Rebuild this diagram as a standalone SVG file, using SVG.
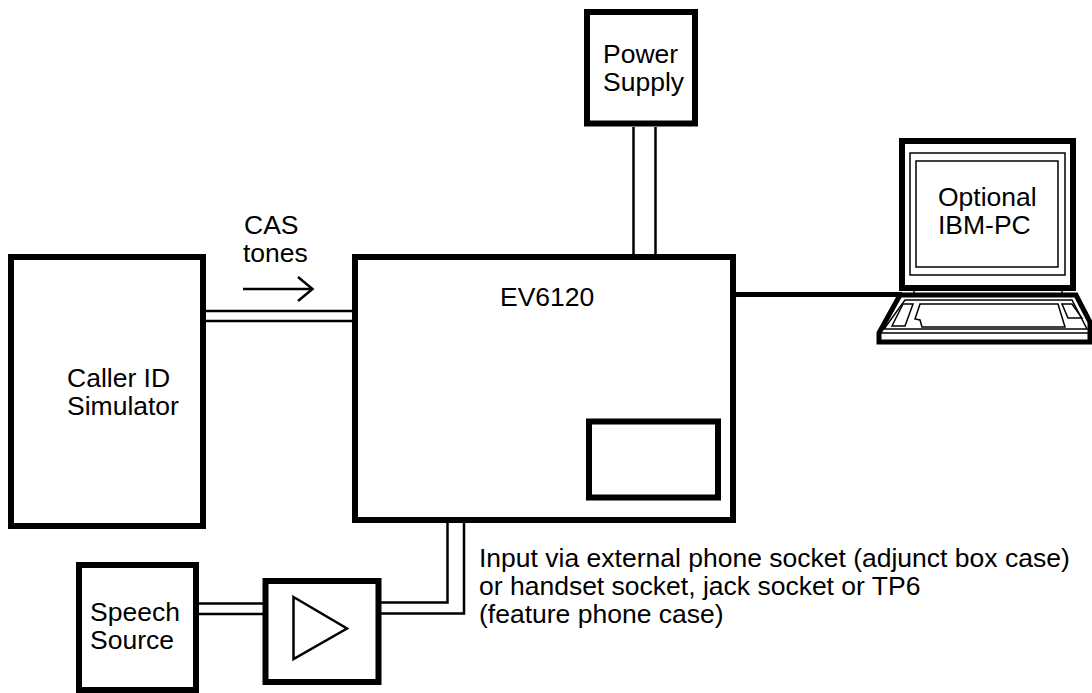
<svg xmlns="http://www.w3.org/2000/svg" width="1092" height="693" viewBox="0 0 1092 693">
<style>
.box{fill:#fff;stroke:#000;stroke-width:6}
.thin{fill:none;stroke:#000;stroke-width:2.5}
.hair{fill:none;stroke:#000;stroke-width:1.5}
.lbl{font-family:"Liberation Sans",Arial,Helvetica,sans-serif;font-size:26.5px;fill:#000}
</style>
<rect width="1092" height="693" fill="#fff"/>
<g id="connectors">
<line class="thin" x1="206" y1="311" x2="352" y2="311"/>
<line class="thin" x1="206" y1="321" x2="352" y2="321"/>
<line class="thin" x1="633.5" y1="127" x2="633.5" y2="254"/>
<line class="thin" x1="655.5" y1="127" x2="655.5" y2="254"/>
<line x1="736" y1="294.5" x2="902" y2="294.5" stroke="#000" stroke-width="5"/>
<line class="thin" x1="199" y1="603.5" x2="263" y2="603.5"/>
<line class="thin" x1="199" y1="614" x2="263" y2="614"/>
<polyline class="thin" points="381,602.5 447.5,602.5 447.5,523"/>
<polyline class="thin" points="381,613.5 464,613.5 464,523"/>
<g id="cas-arrow">
<line class="thin" x1="243" y1="289" x2="312" y2="289"/>
<polyline class="thin" points="298,277 312.5,289 298,301"/>
</g>
</g>
<g id="caller-id-simulator">
<rect class="box" x="11" y="257" width="192" height="269"/>
<text class="lbl" x="67" y="387">Caller ID</text>
<text class="lbl" x="67" y="415">Simulator</text>
</g>
<g id="cas-label">
<text class="lbl" x="244" y="234">CAS</text>
<text class="lbl" x="243" y="262">tones</text>
</g>
<g id="ev6120">
<rect class="box" x="355" y="257" width="378" height="263"/>
<text class="lbl" x="500" y="306">EV6120</text>
<rect class="box" x="589" y="421.5" width="129" height="76"/>
</g>
<g id="power-supply">
<rect class="box" x="587" y="12" width="108" height="111.5"/>
<text class="lbl" x="603" y="63">Power</text>
<text class="lbl" x="603" y="91">Supply</text>
</g>
<g id="ibm-pc">
<rect x="902" y="141" width="171" height="147" fill="#fff" stroke="#000" stroke-width="6"/>
<rect class="hair" x="910" y="153" width="155" height="122"/>
<rect class="hair" x="916" y="161" width="142" height="106"/>
<rect class="hair" x="914" y="288" width="148" height="8"/>
<path d="M900,295 L1076,295 L1090,322 L1090,342 L879,342 L879,333 Z" fill="#fff" stroke="#000" stroke-width="5" stroke-linejoin="miter"/>
<path class="hair" d="M905,300 L1072,300 L1087,329 L884,329 Z"/>
<line class="hair" x1="879" y1="333" x2="1090" y2="333"/>
<path class="hair" d="M920,304 L1058,304 L1065,327 L922,327 L920,320 L915,319 Z"/>
<path class="hair" d="M903,304 L913,304 L905,326 L892,326 Z"/>
<path class="hair" d="M1062,304 L1072,304 L1082,318 L1068,318 Z"/>
<text class="lbl" x="938" y="206">Optional</text>
<text class="lbl" x="938" y="234">IBM-PC</text>
</g>
<g id="speech-source">
<rect class="box" x="79" y="565" width="117" height="125"/>
<text class="lbl" x="90" y="621">Speech</text>
<text class="lbl" x="90" y="649">Source</text>
</g>
<g id="amplifier">
<rect class="box" x="265.5" y="581" width="113" height="101"/>
<polygon class="thin" points="293.5,597 347,628.5 293.5,659"/>
</g>
<g id="input-note">
<text class="lbl" x="479" y="567">Input via external phone socket (adjunct box case)</text>
<text class="lbl" x="479" y="595">or handset socket, jack socket or TP6</text>
<text class="lbl" x="479" y="623">(feature phone case)</text>
</g>
</svg>
